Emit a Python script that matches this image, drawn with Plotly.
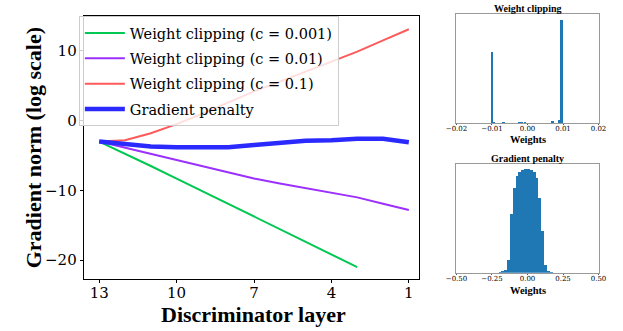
import plotly.graph_objects as go

# ---------------- data ----------------
layers = [13, 12, 11, 10, 9, 8, 7, 6, 5, 4, 3, 2, 1]
layers_c0001 = [13, 12, 11, 10, 9, 8, 7, 6, 5, 4, 3]
norm_c0001 = [-3.0, -4.7, -6.5, -8.3, -10.1, -12.0, -13.8, -15.6, -17.4, -19.2, -21.0]
norm_c001 = [-3.0, -3.9, -4.8, -5.6, -6.6, -7.5, -8.3, -9.0, -9.7, -10.3, -11.0, -11.9, -12.8]
norm_c01 = [-3.0, -2.8, -1.8, -0.5, 1.0, 2.6, 4.2, 5.6, 7.0, 8.4, 9.9, 11.5, 13.1]
norm_gp = [-3.0, -3.4, -3.7, -3.8, -3.8, -3.8, -3.5, -3.2, -2.9, -2.8, -2.6, -2.6, -3.1]

series_names = ["Weight clipping (c = 0.001)", "Weight clipping (c = 0.01)",
                "Weight clipping (c = 0.1)", "Gradient penalty"]
series_colors = ["#00c853", "#9b30ff", "#ff5a5a", "#2a2aff"]

x_ticks = [13, 10, 7, 4, 1]
y_ticks = [-20, -10, 0, 10]

# weight clipping histogram (bin centre, relative count)
wc_centers = [-0.0098, -0.0093, -0.0066, -0.0021, -0.0013, -0.0005, 0.0072, 0.0091, 0.0098]
wc_counts = [0.69, 0.004, 0.006, 0.004, 0.004, 0.004, 0.02, 0.025, 1.0]
wc_ticks = [-0.02, -0.01, 0.0, 0.01, 0.02]

# gradient penalty histogram (bin centre, relative count)
gp_centers = [-0.19, -0.17, -0.15, -0.13, -0.11, -0.09, -0.07, -0.05, -0.03, -0.01,
              0.01, 0.03, 0.05, 0.07, 0.09, 0.11, 0.13, 0.15, 0.17]
gp_counts = [0.005, 0.012, 0.03, 0.12, 0.57, 0.82, 0.93, 0.97, 0.99, 1.0,
             1.0, 0.99, 0.97, 0.91, 0.72, 0.40, 0.07, 0.02, 0.005]
gp_ticks = [-0.5, -0.25, 0.0, 0.25, 0.5]

# ---------------- layout helpers ----------------
W, H = 623, 331
def px(x):
    return x / W
def py(y):
    return 1 - y / H

FONT_B = "Liberation Serif"   # bold titles
FONT = "DejaVu Serif"         # regular text

fig = go.Figure()

line_x = [layers_c0001, layers, layers, layers]
line_y = [norm_c0001, norm_c001, norm_c01, norm_gp]
widths = [2, 2, 2, 4.5]
for i, (name, col, xs, ys, w) in enumerate(zip(series_names, series_colors, line_x, line_y, widths)):
    fig.add_trace(go.Scatter(x=xs, y=ys, mode="lines", name=name, legendgroup=f"g{i}",
                             line=dict(color=col, width=w), xaxis="x", yaxis="y"))

fig.add_trace(go.Bar(x=wc_centers, y=wc_counts, width=0.00055, marker_color="#1f77b4",
                     marker_line_width=0, showlegend=False, xaxis="x2", yaxis="y2"))
fig.add_trace(go.Bar(x=gp_centers, y=gp_counts, width=0.02, marker_color="#1f77b4",
                     marker_line_width=0, showlegend=False, xaxis="x3", yaxis="y3"))

axis_common = dict(showgrid=False, zeroline=False, showline=True, mirror=True)

fig.update_layout(
    width=W, height=H,
    margin=dict(l=0, r=0, t=0, b=0),
    paper_bgcolor="white", plot_bgcolor="white",
    font=dict(family=FONT, color="black"),
    bargap=0,
    xaxis=dict(domain=[px(75), px(421)], range=[13.6, 0.6], anchor="y",
               tickvals=x_ticks, ticks="outside", ticklen=3, tickcolor="black",
               linecolor="black", linewidth=1, tickfont=dict(size=15, family=FONT),
               ticklabelstandoff=-3, **axis_common),
    yaxis=dict(domain=[py(279), py(16)], range=[-22.7, 15.0], anchor="x",
               tickvals=y_ticks, ticks="outside", ticklen=3, tickcolor="black",
               linecolor="black", linewidth=1, tickfont=dict(size=15, family=FONT),
               **axis_common),
    xaxis2=dict(domain=[px(459.5), px(606)], range=[-0.02, 0.02], anchor="y2",
                tickvals=wc_ticks, tickformat=".2f", ticks="outside", ticklen=1,
                tickcolor="#555", linecolor="#999", linewidth=1,
                tickfont=dict(size=7, family=FONT), ticklabelstandoff=-2, **axis_common),
    yaxis2=dict(domain=[py(123), py(14)], range=[0, 1.06], anchor="x2",
                showticklabels=False, ticks="", linecolor="#999", linewidth=1,
                **axis_common),
    xaxis3=dict(domain=[px(459.5), px(606)], range=[-0.5, 0.5], anchor="y3",
                tickvals=gp_ticks, tickformat=".2f", ticks="outside", ticklen=1,
                tickcolor="#555", linecolor="#999", linewidth=1,
                tickfont=dict(size=7, family=FONT), ticklabelstandoff=-2, **axis_common),
    yaxis3=dict(domain=[py(272.7), py(164)], range=[0, 1.05], anchor="x3",
                showticklabels=False, ticks="", linecolor="#999", linewidth=1,
                **axis_common),
    legend=dict(x=px(70), y=py(16), xanchor="left", yanchor="top",
                bgcolor="rgba(255,255,255,0.8)", bordercolor="#cccccc", borderwidth=1,
                font=dict(size=14.5, family=FONT), itemwidth=40, tracegroupgap=3.5),
    showlegend=True,
)

annotations = [
    dict(text="<b>Discriminator layer</b>", x=px(250), y=py(314), xref="paper", yref="paper",
         showarrow=False, font=dict(size=22, family=FONT_B), xanchor="center", yanchor="middle"),
    dict(text="<b>Gradient norm (log scale)</b>", x=px(23), y=py(148), xref="paper", yref="paper",
         showarrow=False, textangle=-90, font=dict(size=22, family=FONT_B),
         xanchor="center", yanchor="middle"),
    dict(text="<b>Weight clipping</b>", x=px(533), y=py(8.5), xref="paper", yref="paper",
         showarrow=False, font=dict(size=10, family=FONT_B), xanchor="center", yanchor="middle"),
    dict(text="<b>Weights</b>", x=px(533), y=py(139.5), xref="paper", yref="paper",
         showarrow=False, font=dict(size=10.5, family=FONT_B), xanchor="center", yanchor="middle"),
    dict(text="<b>Gradient penalty</b>", x=px(533), y=py(158), xref="paper", yref="paper",
         showarrow=False, font=dict(size=10, family=FONT_B), xanchor="center", yanchor="middle"),
    dict(text="<b>Weights</b>", x=px(533), y=py(290.5), xref="paper", yref="paper",
         showarrow=False, font=dict(size=10.5, family=FONT_B), xanchor="center", yanchor="middle"),
]
fig.update_layout(annotations=annotations)

fig.write_html("out.html")
